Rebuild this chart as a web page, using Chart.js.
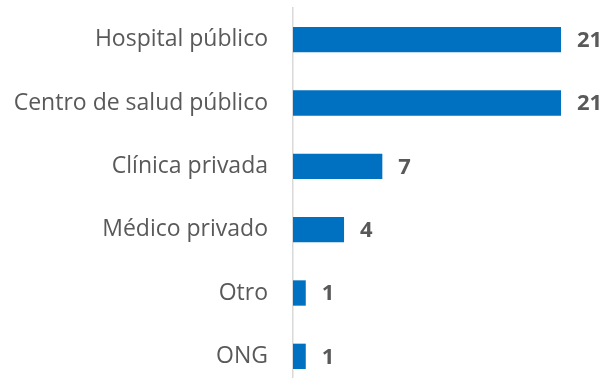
<!DOCTYPE html>
<html>
<head>
<meta charset="utf-8">
<script src="https://cdn.jsdelivr.net/npm/chart.js@4"></script>
<style>
  html, body { margin: 0; padding: 0; background: #ffffff; overflow: hidden; }
  canvas { display: block; }
</style>
</head>
<body>
<canvas id="chart" width="608" height="388"></canvas>
<script>
// Lugar de atención
const categories = ["Hospital público", "Centro de salud público", "Clínica privada", "Médico privado", "Otro", "ONG"];
const counts = [21, 21, 7, 4, 1, 1];

const barColor = "#0070C0";
const textColor = "#595959";

// Draws each bar's value to the right of its end
const valueLabels = {
  id: "valueLabels",
  afterDatasetsDraw(chart) {
    const ctx = chart.ctx;
    const meta = chart.getDatasetMeta(0);
    ctx.save();
    ctx.font = "bold 22px 'Open Sans'";
    ctx.fillStyle = textColor;
    ctx.textAlign = "left";
    ctx.textBaseline = "middle";
    meta.data.forEach((bar, i) => {
      ctx.fillText(String(counts[i]), bar.x + 16, bar.y + 1);
    });
    ctx.restore();
  }
};

new Chart(document.getElementById("chart"), {
  type: "bar",
  data: {
    labels: categories,
    datasets: [{
      data: counts,
      backgroundColor: barColor,
      borderWidth: 0,
      barPercentage: 0.4,
      categoryPercentage: 1.0
    }]
  },
  options: {
    indexAxis: "y",
    responsive: false,
    maintainAspectRatio: false,
    animation: false,
    devicePixelRatio: 1,
    layout: { padding: { top: 8, right: 47, bottom: 0, left: 0 } },
    plugins: { legend: { display: false }, tooltip: { enabled: false } },
    scales: {
      x: {
        display: false,
        min: 0,
        max: 21
      },
      y: {
        afterFit(scale) {
          scale.width = 293;
          // categories are offset, so the end labels need no extra room
          scale.paddingTop = 0;
          scale.paddingBottom = 0;
        },
        // the (hidden) tick length keeps labels clear of the axis line
        grid: { display: false, drawTicks: true, tickLength: 25 },
        border: { display: true, color: "#D9D9D9", width: 1.5 },
        ticks: {
          color: textColor,
          padding: 0,
          font: { family: "'Open Sans'", size: 23 }
        }
      }
    }
  },
  plugins: [valueLabels]
});
</script>
</body>
</html>
